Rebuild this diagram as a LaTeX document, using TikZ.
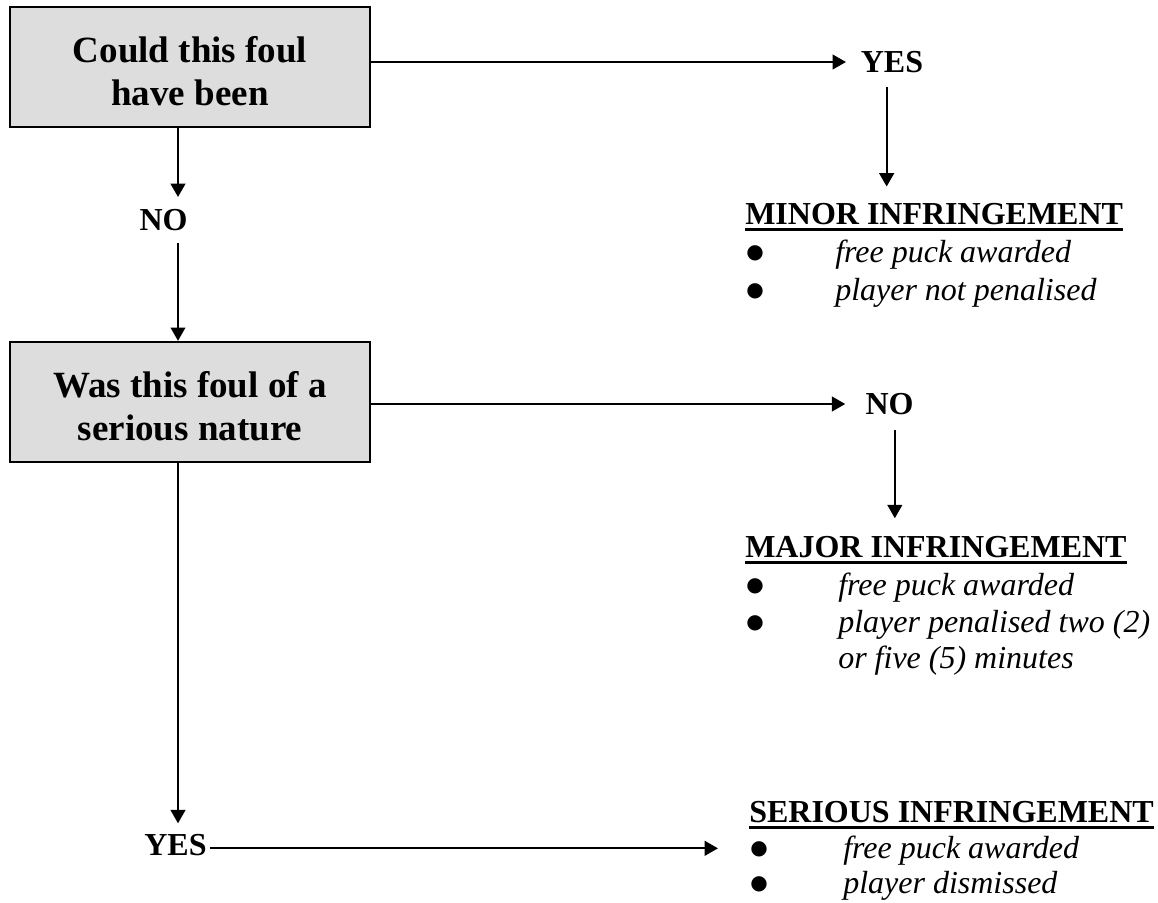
\documentclass[tikz,border=0pt]{standalone}
\usepackage{fontspec}
\setmainfont{Liberation Serif}
\newfontfamily\dotfont{DejaVu Sans}
\usepackage{xcolor}
\definecolor{boxgray}{RGB}{221,221,221}
\usetikzlibrary{arrows.meta, positioning}
\newcommand{\ulhead}[1]{\setbox0=\hbox{#1}\rlap{\rule[-5pt]{\wd0}{2.25pt}}\box0}
\newcommand{\itemdot}[1]{\makebox[#1][l]{\raisebox{2.5pt}{\dotfont\fontsize{15}{15}\selectfont\upshape ●}}}
\tikzset{
  question/.style={draw=black, line width=1.75pt, fill=boxgray,
    minimum width=270pt, minimum height=90pt, align=center, inner sep=0pt,
    font=\fontsize{27.75}{32.25}\selectfont\bfseries},
  answer/.style={inner sep=0pt, font=\fontsize{24}{24}\selectfont\bfseries},
  outcome/.style={anchor=base west, inner sep=0pt, font=\fontsize{24}{24}\selectfont\bfseries},
  point/.style={anchor=base west, inner sep=0pt, font=\fontsize{24}{28}\selectfont\itshape},
  flow/.style={-{Triangle[length=10pt,width=11pt]}, line width=1.5pt}
}

\begin{document}
\begin{tikzpicture}[x=0.75pt, y=-0.75pt]
  \useasboundingbox (0,0) rectangle (1158,903);

  % questions
  \node[question] (q1) at (190,67) {\rule{0pt}{26pt}Could this foul\\have been};
  \node[question] (q2) at (190,402) {\rule{0pt}{26pt}Was this foul of a\\serious nature};

  % answers
  \node[answer] (yes1) at (892,62) {YES};
  \node[answer] (no1) at (163.5,220) {NO};
  \node[answer] (no2) at (889.5,404) {NO};
  \node[answer] (yes2) at (175.5,845) {YES};

  % outcomes
  \node[outcome] (minor) at (745,224) {\ulhead{MINOR INFRINGEMENT}};
  \node[point] (minorA) at (746,262) {\itemdot{66.75pt}free puck awarded};
  \node[point] (minorB) at (746,300) {\itemdot{66.75pt}player not penalised};

  \node[outcome] (major) at (745,557) {\ulhead{MAJOR INFRINGEMENT}};
  \node[point] (majorA) at (746,595) {\itemdot{69pt}free puck awarded};
  \node[point] (majorB) at (746,632) {\itemdot{69pt}player penalised two (2)};
  \node[point] (majorC) at (838,668) {or five (5) minutes};

  \node[outcome] (serious) at (749,822) {\ulhead{SERIOUS INFRINGEMENT}};
  \node[point] (seriousA) at (750,858) {\itemdot{69.75pt}free puck awarded};
  \node[point] (seriousB) at (750,893) {\itemdot{69.75pt}player dismissed};

  % connectors
  \coordinate (trunk) at (178,0);
  \draw[flow, shorten >=9pt] (q1.south -| trunk) -- (no1.north -| trunk);
  \draw[flow, shorten <=9pt] (no1.south -| trunk) -- (q2.north -| trunk);
  \draw[flow, shorten >=8pt] (q2.south -| trunk) -- (yes2.north -| trunk);

  \draw[flow, shorten >=11pt] (q1.east |- yes1) -- (yes1.west);
  \draw[flow, shorten >=15pt] (q2.east |- no2) -- (no2.west);
  \draw[flow, shorten <=2pt, shorten >=24pt] ([yshift=-2.5pt]yes2.east) -- ([yshift=-2.5pt]yes2.east -| seriousA.west);

  \draw[flow, shorten <=10.5pt, shorten >=12pt] ([xshift=-4pt]yes1.south) -- ([xshift=-4pt]yes1.south |- minor.north);
  \draw[flow, shorten <=11pt, shorten >=13pt] ([xshift=4pt]no2.south) -- ([xshift=4pt]no2.south |- major.north);

\end{tikzpicture}
\end{document}
